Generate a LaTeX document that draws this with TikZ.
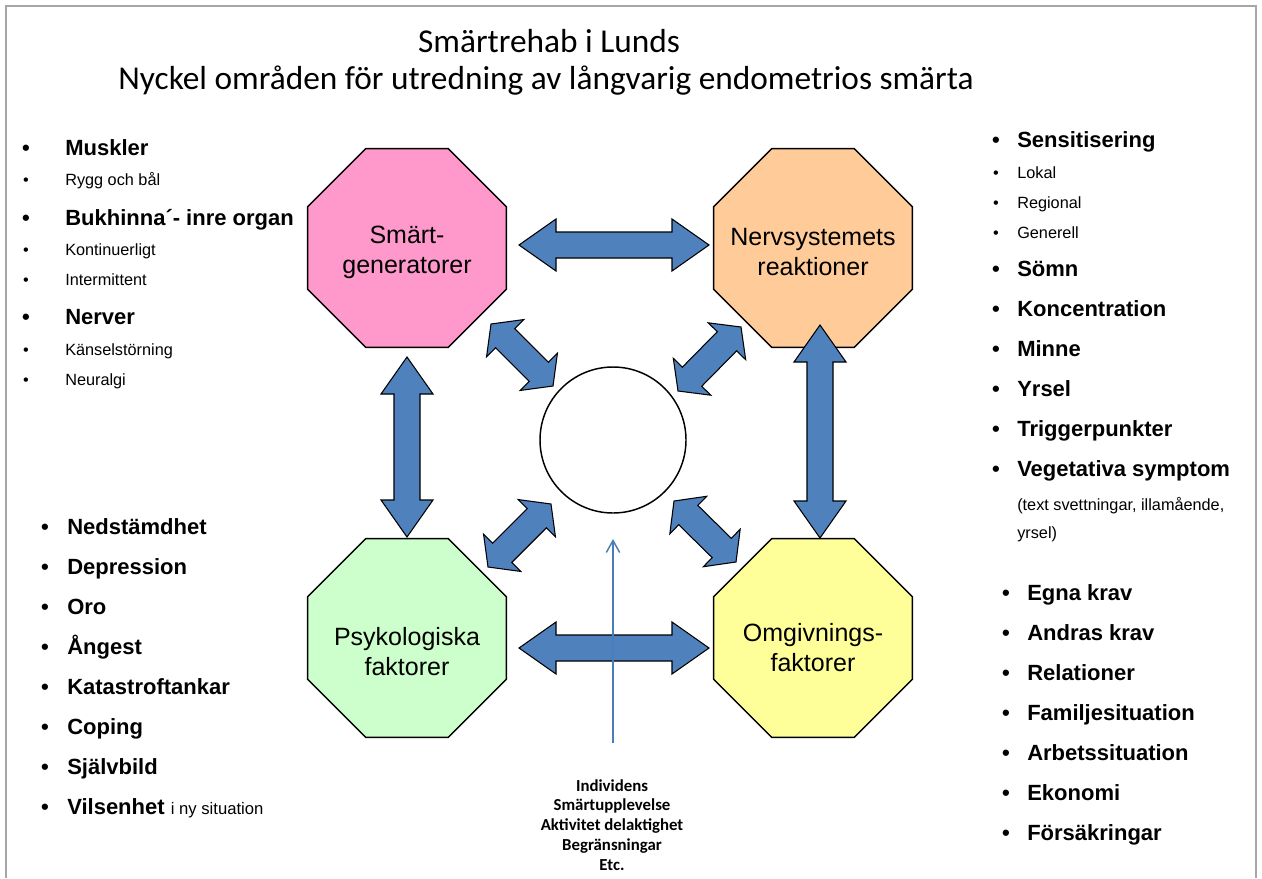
\documentclass[tikz,border=0pt]{standalone}
\usepackage{fontspec}
\setmainfont{Liberation Sans}
\newfontfamily\carl{Carlito}
\usetikzlibrary{shapes.geometric,calc,arrows.meta}
\definecolor{octpink}{HTML}{FF99CC}
\definecolor{octorange}{HTML}{FFCC99}
\definecolor{octgreen}{HTML}{CCFFCC}
\definecolor{octyellow}{HTML}{FFFF99}
\definecolor{arrblue}{HTML}{4F81BD}
\definecolor{thinblue}{HTML}{4A7EBB}
\definecolor{framegray}{HTML}{A6A6A6}
\tikzset{
 octo/.style={regular polygon, regular polygon sides=8, minimum size=161.5pt, inner sep=0pt, outer sep=0pt, draw=black, line width=1.1pt},
 octlabel/.style={align=center, font=\fontsize{18.75pt}{22.5pt}\selectfont, inner sep=0pt},
 bigitem/.style={anchor=base west, inner sep=0pt, font=\bfseries\fontsize{16.5pt}{19pt}\selectfont},
 smallitem/.style={anchor=base west, inner sep=0pt, font=\fontsize{12.2pt}{14pt}\selectfont},
 bigbullet/.style={anchor=base, inner sep=0pt, font=\bfseries\fontsize{16.5pt}{19pt}\selectfont},
 smallbullet/.style={anchor=base, inner sep=0pt, font=\fontsize{12.2pt}{14pt}\selectfont},
 fatarrow/.style={fill=arrblue, draw=black, line width=0.8pt, line join=miter},
 centertext/.style={anchor=base, inner sep=0pt, font=\carl\bfseries\fontsize{12.6pt}{15pt}\selectfont},
 titletext/.style={anchor=base, inner sep=0pt, font=\carl\fontsize{25pt}{30pt}\selectfont},
 framestyle/.style={draw=framegray, line width=1.5pt},
}
\newcommand\drawdouble[5]{%
 \coordinate (fa1) at ($(#1)!#5!(#2)$);
 \coordinate (fa2) at ($(#2)!#5!(#1)$);
 \draw[fatarrow] (#1) -- ($(fa1)!#4!90:(#2)$) -- ($(fa1)!#3!90:(#2)$)
   -- ($(fa2)!#3!-90:(#1)$) -- ($(fa2)!#4!-90:(#1)$) -- (#2)
   -- ($(fa2)!#4!90:(#1)$) -- ($(fa2)!#3!90:(#1)$)
   -- ($(fa1)!#3!-90:(#2)$) -- ($(fa1)!#4!-90:(#2)$) -- cycle;}
\begin{document}
\begin{tikzpicture}[x=0.75pt,y=-0.75pt]
\useasboundingbox (0,0) rectangle (1262,878);
\fill[white] (0,0) rectangle (1262,878);
% frame
\coordinate (fr1) at (6,878);
\coordinate (fr2) at (6,6);
\coordinate (fr3) at (1256,6);
\coordinate (fr4) at (1256,878);
\draw[framestyle] (fr1) -- (fr2) -- (fr3) -- (fr4);
% title
\node[titletext] (t1) at (549,52) {Smärtrehab i Lunds};
\node[titletext] (t2) at (546,89) {Nyckel områden för utredning av långvarig endometrios smärta};
% octagons
\node[octo, fill=octpink] (smg) at (407,248) {};
\node[octo, fill=octorange] (nrv) at (813,248) {};
\node[octo, fill=octgreen] (psy) at (407,638) {};
\node[octo, fill=octyellow] (omg) at (813,638) {};
\node[octlabel] (smgl) at (407,252) {Smärt-\\generatorer};
\node[octlabel] (nrvl) at (813,252) {Nervsystemets\\reaktioner};
\node[octlabel] (psyl) at (407,652) {Psykologiska\\faktorer};
\node[octlabel] (omgl) at (813,648) {Omgivnings-\\faktorer};
% centre circle
\node[circle, draw=black, fill=white, line width=1.1pt, minimum size=109.5pt, inner sep=0pt] (core) at (613,440) {};
% arrow end points
\coordinate (ht1) at (519,245); \coordinate (ht2) at (709,245);
\coordinate (hb1) at (519,648); \coordinate (hb2) at (709,648);
\coordinate (vl1) at (407,357); \coordinate (vl2) at (407,537);
\coordinate (vr1) at (820,325); \coordinate (vr2) at (820,538);
\coordinate (dtl1) at (491,324); \coordinate (dtl2) at (553,386);
\coordinate (dtr1) at (741,327); \coordinate (dtr2) at (678,391);
\coordinate (dbl1) at (551,504); \coordinate (dbl2) at (488,567);
\coordinate (dbr1) at (674,501); \coordinate (dbr2) at (736,562);
\drawdouble{ht1}{ht2}{9.75pt}{19.5pt}{27.75pt}
\drawdouble{hb1}{hb2}{9.75pt}{19.5pt}{27.75pt}
\drawdouble{vl1}{vl2}{9.75pt}{19.5pt}{27.75pt}
\drawdouble{vr1}{vr2}{9.75pt}{19.5pt}{27.75pt}
\drawdouble{dtl1}{dtl2}{10.2pt}{19.7pt}{15pt}
\drawdouble{dtr1}{dtr2}{10.2pt}{19.7pt}{15pt}
\drawdouble{dbl1}{dbl2}{10.2pt}{19.7pt}{15pt}
\drawdouble{dbr1}{dbr2}{10.2pt}{19.7pt}{15pt}
% thin arrow
\coordinate (ta1) at (613,743);
\coordinate (ta2) at (613,539);
\draw[thinblue, line width=1.1pt, -{Straight Barb[length=9pt,width=10pt]}] (ta1) -- (ta2);
% bottom centre text
\foreach \y/\t [count=\i] in {791/Individens, 810/Smärtupplevelse, 830/Aktivitet delaktighet, 850/Begränsningar, 870/Etc.}
  \node[centertext] (ct\i) at (612,\y) {\t};
% left top list
\foreach \y/\st/\sb/\t [count=\i] in {155/bigitem/bigbullet/Muskler, 185/smallitem/smallbullet/Rygg och bål, 225/bigitem/bigbullet/Bukhinna´- inre organ, 255/smallitem/smallbullet/Kontinuerligt, 285/smallitem/smallbullet/Intermittent, 324/bigitem/bigbullet/Nerver, 355/smallitem/smallbullet/Känselstörning, 385/smallitem/smallbullet/Neuralgi} {
  \node[\sb] (ltb\i) at (26,\y) {•};
  \node[\st] (ltt\i) at (65,\y) {\t};
}
% right top list
\foreach \y/\st/\sb/\t [count=\i] in {147/bigitem/bigbullet/Sensitisering, 178/smallitem/smallbullet/Lokal, 208/smallitem/smallbullet/Regional, 238/smallitem/smallbullet/Generell, 276/bigitem/bigbullet/Sömn, 316/bigitem/bigbullet/Koncentration, 356/bigitem/bigbullet/Minne, 396/bigitem/bigbullet/Yrsel, 436/bigitem/bigbullet/Triggerpunkter, 476/bigitem/bigbullet/Vegetativa symptom} {
  \node[\sb] (rtb\i) at (996,\y) {•};
  \node[\st] (rtt\i) at (1017,\y) {\t};
}
\node[smallitem] (rtx1) at (1017,510) {(text svettningar, illamående,};
\node[smallitem] (rtx2) at (1017,538) {yrsel)};
% left bottom list
\foreach \y/\t [count=\i] in {534/Nedstämdhet, 574/Depression, 614/Oro, 654/Ångest, 694/Katastroftankar, 734/Coping, 774/Självbild} {
  \node[bigbullet] (lbb\i) at (45,\y) {•};
  \node[bigitem] (lbt\i) at (67,\y) {\t};
}
\node[bigbullet] (lbb8) at (45,814) {•};
\node[bigitem] (lbt8) at (67,814) {Vilsenhet {\mdseries\fontsize{12.5pt}{14pt}\selectfont i ny situation}};
% right bottom list
\foreach \y/\t [count=\i] in {600/Egna krav, 640/Andras krav, 680/Relationer, 720/Familjesituation, 760/Arbetssituation, 800/Ekonomi, 840/Försäkringar} {
  \node[bigbullet] (rbb\i) at (1006,\y) {•};
  \node[bigitem] (rbt\i) at (1027,\y) {\t};
}
\end{tikzpicture}
\end{document}
